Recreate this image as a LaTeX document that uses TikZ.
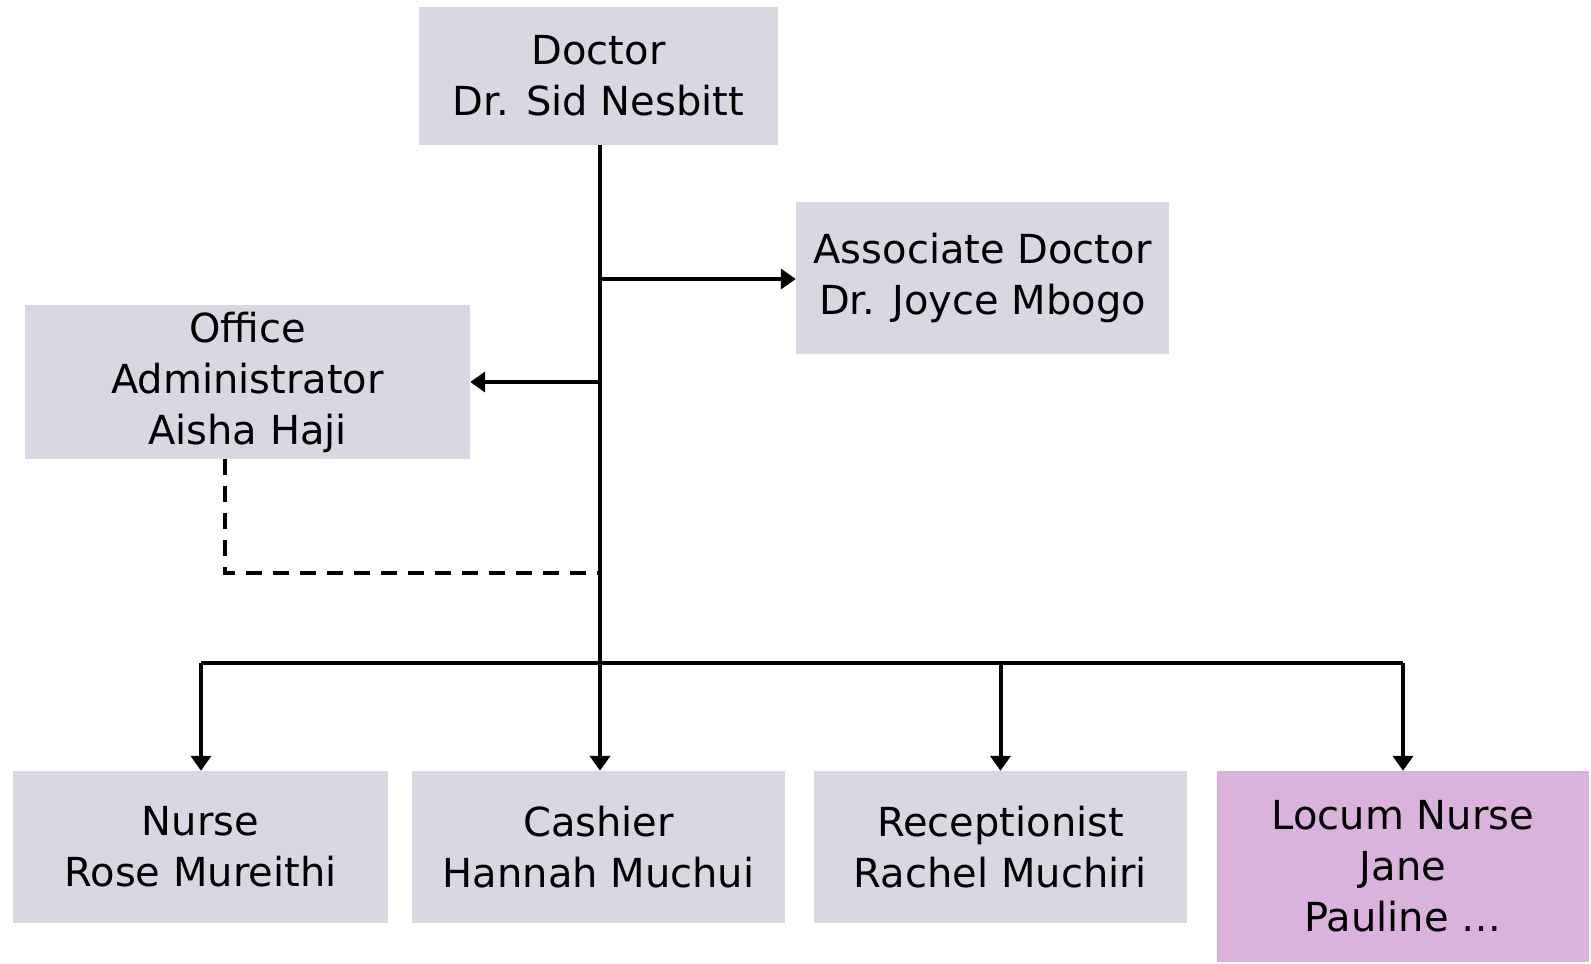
\documentclass[tikz,border=0pt]{standalone}
\usepackage{fontspec}
\setmainfont{DejaVu Sans}
\usetikzlibrary{arrows.meta,positioning}
\definecolor{boxgrey}{RGB}{216,216,226}
\definecolor{boxpink}{RGB}{217,179,220}
\tikzset{
  staff/.style={fill=boxgrey, align=center, inner sep=0pt, minimum height=152pt,
    minimum width=373pt, font=\fontsize{40}{51}\selectfont},
  link/.style={line width=4pt},
  tip/.style={link, -{Triangle[width=20pt,length=15pt]}},
}
\begin{document}
\begin{tikzpicture}[x=1pt,y=-1pt]
        \useasboundingbox (0,0) rectangle (1591,964);
        \node[staff, minimum width=359pt, minimum height=138pt] (doc) at (598.5,76) {Doctor\\Dr. Sid Nesbitt};
        \node[staff] (assoc) at (982.5,278) {Associate Doctor\\Dr. Joyce Mbogo};
        \node[staff, minimum width=445pt, minimum height=154pt] (admin) at (247.5,382) {Office\\Administrator\\Aisha Haji};
        \node[staff, minimum width=375pt] (nurse) at (200.5,847) {Nurse\\Rose Mureithi};
        \node[staff] (cash) at (598.5,847) {Cashier\\Hannah Muchui};
        \node[staff] (recep) at (1000.5,847) {Receptionist\\Rachel Muchiri};
        \node[staff, fill=boxpink, minimum width=372pt, minimum height=191pt] (locum) at (1403,866.5) {Locum Nurse\\Jane\\Pauline \dots};
        \coordinate (A) at (600,279);
        \coordinate (B) at (600,382);
        \coordinate (C) at (225,573);
        \coordinate (D) at (600,573);
        \coordinate (E) at (600,663);
        \coordinate (F) at (201,663);
        \coordinate (G) at (1403,663);
        \draw[link] (doc.south -| E) -- (E) ;
        \draw[link] (F) -- (G) ;
        \draw[tip] (A) -- (A -| assoc.west) ;
        \draw[tip] (B) -- (B -| admin.east) ;
        \draw[link, dashed, dash pattern=on 16pt off 11pt] (admin.south -| C) -- (C) -- (D) ;
        \draw[tip] (F) -- (nurse.north -| F) ;
        \draw[tip] (E) -- (cash.north -| E) ;
        \draw[tip] (recep.north |- E) -- (recep.north) ;
        \draw[tip] (G) -- (locum.north) ;
        \end{tikzpicture}
\end{document}
